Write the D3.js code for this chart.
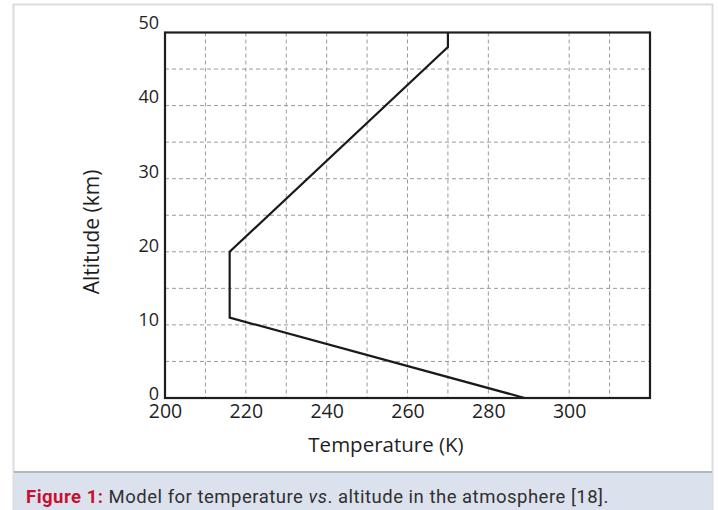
<!DOCTYPE html>
<html><head><meta charset="utf-8">
<script src="https://cdn.jsdelivr.net/npm/d3@7"></script>
<style>
html,body{margin:0;padding:0;background:#fff;}
svg{display:block;}
</style></head>
<body>
<svg id="c" width="718" height="510"></svg>
<script>
// ---- data ----
const temperatures = [289, 216, 216, 270, 270];   // K
const altitudes    = [0, 11, 20, 48, 50];          // km
const xTickValues = [200, 220, 240, 260, 280, 300];
const yTickValues = [0, 10, 20, 30, 40, 50];
const xGridValues = [210, 220, 230, 240, 250, 260, 270, 280, 300, 310];
const yGridValues = [5, 10, 15, 20, 25, 30, 35, 40, 45];
const xTitle = "Temperature (K)";
const yTitle = "Altitude (km)";
const captionLabel = "Figure 1:";
const captionParts = [["Model for temperature ", "normal"], ["vs", "italic"], [". altitude in the atmosphere [18].", "normal"]];

const svg = d3.select("#c");
const font = "'Open Sans', sans-serif";

// frame
svg.append("rect").attr("x", 13.5).attr("y", 4.5).attr("width", 699).attr("height", 520)
  .attr("fill", "#fff").attr("stroke", "#dcdcdc").attr("stroke-width", 2);

// caption panel
svg.append("rect").attr("x", 14).attr("y", 472).attr("width", 698).attr("height", 40)
  .attr("fill", "#dbe2ee");
svg.append("line").attr("x1", 14).attr("x2", 712).attr("y1", 472).attr("y2", 472)
  .attr("stroke", "#b5b8bd").attr("stroke-width", 2);

const x = d3.scaleLinear().domain([200, 320]).range([165, 650]);
const y = d3.scaleLinear().domain([0, 50]).range([398, 32.5]);
const yLab = d3.scaleLinear().domain([0, 50]).range([394, 23]);

// grid
const g = svg.append("g");
g.selectAll("line.vx").data(xGridValues).join("line")
  .attr("x1", d => x(d)).attr("x2", d => x(d)).attr("y1", y(50)).attr("y2", y(0))
  .attr("stroke", "#9a9a9a").attr("stroke-width", 1).attr("stroke-dasharray", "4,3");
g.selectAll("line.hy").data(yGridValues).join("line")
  .attr("x1", x(200)).attr("x2", x(320)).attr("y1", d => y(d)).attr("y2", d => y(d))
  .attr("stroke", "#9a9a9a").attr("stroke-width", 1).attr("stroke-dasharray", "4,3");

// data line
const pts = temperatures.map((t, i) => [t, altitudes[i]]);
svg.append("path").datum(pts)
  .attr("d", d3.line().x(d => x(d[0])).y(d => y(d[1])))
  .attr("fill", "none").attr("stroke", "#1a1a1a").attr("stroke-width", 2.2)
  .attr("stroke-linejoin", "miter");

// plot border
svg.append("rect").attr("x", x(200)).attr("y", y(50))
  .attr("width", x(320) - x(200)).attr("height", y(0) - y(50))
  .attr("fill", "none").attr("stroke", "#1e1e1e").attr("stroke-width", 2.2);

// axes tick labels via d3 axes
const xAxis = svg.append("g").attr("transform", `translate(0,${y(0)})`)
  .call(d3.axisBottom(x).tickValues(xTickValues).tickSize(0).tickPadding(6).tickFormat(d3.format("d")));
xAxis.select(".domain").remove();
xAxis.selectAll("text").attr("font-family", font).attr("font-size", 19.5).attr("fill", "#1f1f1f");

const yAxis = svg.append("g").attr("transform", `translate(159,0)`)
  .call(d3.axisLeft(yLab).tickValues(yTickValues).tickSize(0).tickPadding(0).tickFormat(d3.format("d")));
yAxis.select(".domain").remove();
yAxis.selectAll("text").attr("font-family", font).attr("font-size", 18).attr("fill", "#1f1f1f");

// titles
svg.append("text").attr("x", 386).attr("y", 452).attr("text-anchor", "middle")
  .attr("font-family", font).attr("font-size", 20.5).attr("fill", "#1f1f1f").text(xTitle);
svg.append("text").attr("transform", "translate(99,232) rotate(-90)").attr("text-anchor", "middle")
  .attr("font-family", font).attr("font-size", 21).attr("fill", "#1f1f1f").text(yTitle);

// caption
const cap = svg.append("text").attr("x", 26).attr("y", 503)
  .attr("font-family", "Roboto, sans-serif").attr("font-size", 18.5).attr("fill", "#303030")
  .attr("letter-spacing", 0.5);
cap.append("tspan").attr("fill", "#c8102e").attr("font-weight", "bold").text(captionLabel + " ");
captionParts.forEach(p => cap.append("tspan").attr("font-style", p[1]).text(p[0]));
</script>
</body></html>
